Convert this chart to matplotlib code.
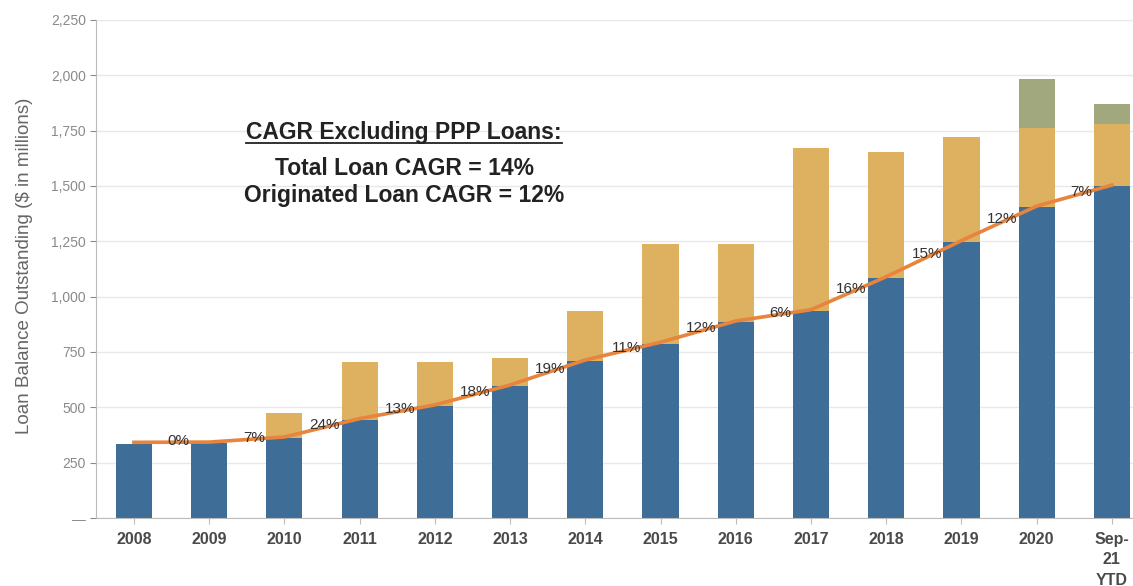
import matplotlib.pyplot as plt
from matplotlib.ticker import FuncFormatter
from matplotlib.lines import Line2D
import numpy as np

plt.rcParams['font.family'] = ['Liberation Sans', 'DejaVu Sans']

# Loan balances ($ in millions)
categories = ["2008", "2009", "2010", "2011", "2012", "2013", "2014", "2015",
              "2016", "2017", "2018", "2019", "2020", "Sep-\n21\nYTD"]
originated = [336, 337, 360, 443, 505, 595, 708, 788, 884, 935, 1084, 1247, 1403, 1498]
acquired = [0, 0, 115, 262, 200, 130, 227, 452, 356, 737, 570, 475, 360, 282]
ppp = [0, 0, 0, 0, 0, 0, 0, 0, 0, 0, 0, 0, 222, 88]
growth_labels = ["0%", "7%", "24%", "13%", "18%", "19%", "11%", "12%",
                 "6%", "16%", "15%", "12%", "7%"]

c_blue = "#3E6D98"
c_gold = "#DDB15F"
c_green = "#A2A87E"
c_orange = "#E8843C"

fig = plt.figure(figsize=(11.33, 5.86), dpi=100)
ax = fig.add_axes([0.085, 0.116, 0.915, 0.85])

x = np.arange(len(categories))
w = 0.48
orig = np.array(originated)
acq = np.array(acquired)
ax.bar(x, orig, w, color=c_blue, zorder=2)
ax.bar(x, acq, w, bottom=orig, color=c_gold, zorder=2)
ax.bar(x, ppp, w, bottom=orig + acq, color=c_green, zorder=2)

ax.plot(x, orig + 6, color=c_orange, lw=2.6, zorder=3)

for i, lab in enumerate(growth_labels):
    xl = i + 0.74
    yl = np.interp(i + 0.6, x, orig) + 12
    ax.text(xl, yl, lab, ha='right', va='center', fontsize=11,
            color='#333333', zorder=4)

ax.set_xlim(-0.5, 13.28)
ax.set_ylim(0, 2250)
ax.set_yticks(np.arange(0, 2251, 250))
ax.yaxis.set_major_formatter(FuncFormatter(lambda v, p: "—" if v == 0 else f"{v:,.0f}"))
ax.set_xticks(x)
ax.set_xticklabels(categories, fontsize=11.5, fontweight='bold', color='#4a4a4a',
                   linespacing=1.45)
ax.tick_params(axis='y', labelsize=10, colors='#8a8a8a', length=4, width=0.8)
ax.tick_params(axis='x', length=4, width=0.8, color='#bbbbbb', pad=6)
ax.grid(axis='y', color='#e8e8e8', lw=1, zorder=0)
for s in ['top', 'right']:
    ax.spines[s].set_visible(False)
for s in ['left', 'bottom']:
    ax.spines[s].set_color('#bbbbbb')
ax.set_ylabel("Loan Balance Outstanding ($ in millions)", fontsize=13.5, color='#666666')
ax.yaxis.set_label_coords(-0.061, 0.506)

head = ax.text(3.59, 1740, "CAGR Excluding PPP Loans:", ha='center', va='center',
               fontsize=16.5, fontweight='bold', color='#222222')
ax.text(3.59, 1577, "Total Loan CAGR = 14%", ha='center', va='center',
        fontsize=16.5, fontweight='bold', color='#222222')
ax.text(3.59, 1455, "Originated Loan CAGR = 12%", ha='center', va='center',
        fontsize=16.5, fontweight='bold', color='#222222')

fig.canvas.draw()
bb = head.get_window_extent().transformed(fig.transFigure.inverted())
fig.add_artist(Line2D([bb.x0, bb.x1], [bb.y0 + 0.002, bb.y0 + 0.002],
                      transform=fig.transFigure, color='#222222', lw=1.3))

fig.savefig("out.png", dpi=100)
